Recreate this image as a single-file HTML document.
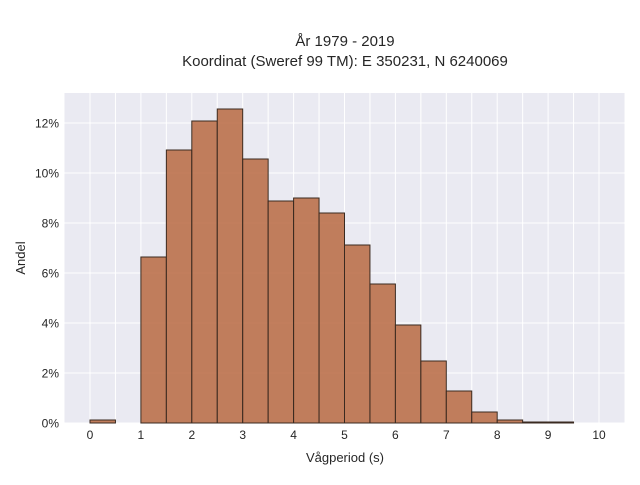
<!DOCTYPE html>
<html><head><meta charset="utf-8"><style>
body{margin:0;background:#fff;font-family:"Liberation Sans",sans-serif;}
svg text{font-family:"Liberation Sans",sans-serif;fill:#262626;}
</style></head><body>
<svg width="640" height="480" xmlns="http://www.w3.org/2000/svg">
<text x="345" y="46" text-anchor="middle" font-size="15">År 1979 - 2019</text>
<text x="345" y="66" text-anchor="middle" font-size="15">Koordinat (Sweref 99 TM): E 350231, N 6240069</text>
<rect x="64.5" y="93" width="560" height="330" fill="#eaeaf2"/>
<g id="grid"></g><g id="bars"></g><g id="ticks"></g>
<text x="345" y="462" text-anchor="middle" font-size="13">Vågperiod (s)</text>
<text transform="translate(25,258) rotate(-90)" text-anchor="middle" font-size="13">Andel</text>
</svg>
<script>
const binStarts=[0,0.5,1,1.5,2,2.5,3,3.5,4,4.5,5,5.5,6,6.5,7,7.5,8,8.5,9,9.5];
const shares=[0.12,0,6.64,10.92,12.08,12.56,10.56,8.88,9.0,8.4,7.12,5.56,3.92,2.48,1.28,0.44,0.12,0.04,0.04,0];
const xTicks=[0,1,2,3,4,5,6,7,8,9,10];
const yTicks=[0,2,4,6,8,10,12];
const binWidth=0.5;
const NS="http://www.w3.org/2000/svg";
const X=v=>90+50.9*v, Y=v=>423-25*v;
const grid=document.getElementById('grid'),bars=document.getElementById('bars'),ticks=document.getElementById('ticks');
function mk(tag,a,p){const e=document.createElementNS(NS,tag);for(const k in a)e.setAttribute(k,a[k]);p.appendChild(e);return e;}
for(let v=-0.5+0.5;v<=10;v+=0.5){const l=mk('line',{x1:X(v),x2:X(v),y1:93,y2:423,stroke:'#fff','stroke-width':1},grid);

}
yTicks.forEach(v=>{const l=mk('line',{x1:64.5,x2:624.5,y1:Y(v),y2:Y(v),stroke:'#fff','stroke-width':1},grid);


const t=mk('text',{x:59,y:Y(v)+4.5,'text-anchor':'end','font-size':12},ticks);t.textContent=v+'%';

});
xTicks.forEach(v=>{const t=mk('text',{x:X(v),y:439,'text-anchor':'middle','font-size':12},ticks);t.textContent=v;

});
binStarts.forEach((s,i)=>{if(shares[i]<=0)return;const r=mk('rect',{x:X(s),y:Y(shares[i]),width:X(s+binWidth)-X(s),height:Y(0)-Y(shares[i]),fill:'#b86a42','fill-opacity':0.85,stroke:'#3a2a20','stroke-width':1},bars);

});
</script>
</body></html>
